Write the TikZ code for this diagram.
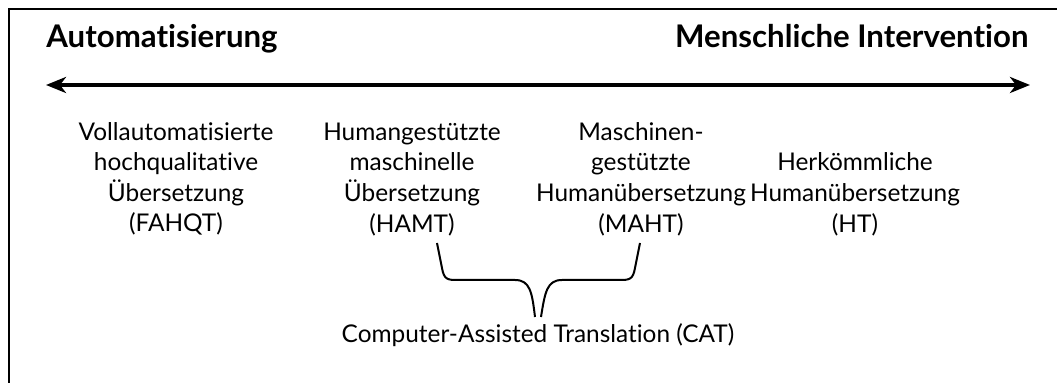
\documentclass[tikz,border=0pt]{standalone}
\usepackage{fontspec}
\setmainfont{Lato}[Ligatures=NoCommon]
\usepackage{tikz}
\usetikzlibrary{arrows.meta}
\tikzset{
  % Spalten unter der Achse
  stufe/.style={
    align=center,
    anchor=south,
    inner sep=0pt,
    font=\fontsize{12.2}{15.3}\selectfont
  },
  % Ueberschriften links und rechts
  pol/.style={inner sep=0pt, font=\fontsize{15.6}{18}\selectfont\bfseries},
  % Achse mit zwei Spitzen
  achse/.style={{Stealth[length=10pt,width=8pt,inset=3pt]}-{Stealth[length=10pt,width=8pt,inset=3pt]}, line width=2pt},
  % Klammer
  klammer/.style={line width=1pt, line join=round},
}

\begin{document}
\begin{tikzpicture}[x=0.5pt, y=-0.5pt]
  \useasboundingbox (0,0) rectangle (1057,383);
  \begin{scope}
    \clip (0,0) rectangle (1057,383);
    \draw[line width=0.8pt] (9,9) rectangle (1066,420);
  \end{scope}

  % Pole
  \node[pol, anchor=base west] (auto) at (46,48) {Automatisierung};
  \node[pol, anchor=base east] (mensch) at (1029,48) {Menschliche Intervention};

  % Achse
  \coordinate (links) at (46,85);
  \coordinate (rechts) at (1030,85);
  \draw[achse] (links) -- (rechts);

  % Stufen
  \node[stufe] (fahqt) at (176,236) {Vollautomatisierte\\hochqualitative\\Übersetzung\\(FAHQT)};
  \node[stufe] (hamt) at (412,236) {Humangestützte\\maschinelle\\Übersetzung\\(HAMT)};
  \node[stufe] (maht) at (641,236) {Maschinen-\\gestützte\\Humanübersetzung\\(MAHT)};
  \node[stufe] (ht) at (855,236) {Herkömmliche\\Humanübersetzung\\(HT)};

  % CAT-Klammer
  \coordinate (kl) at (437,243);
  \coordinate (kr) at (640,243);
  \coordinate (spitze) at (538,317);
  \draw[klammer] (kl) -- (442,268) .. controls (444,280) and (448,280) .. (458,280)
    -- (515,280) .. controls (530,280) and (532,292) .. ([xshift=-1.5pt]spitze);
  \draw[klammer] (kr) -- (635,268) .. controls (633,280) and (629,280) .. (619,280)
    -- (562,280) .. controls (547,280) and (545,292) .. ([xshift=1.5pt]spitze);
  \node[stufe, anchor=base] (cat) at (538,343) {Computer-Assisted Translation (CAT)};
\end{tikzpicture}
\end{document}
